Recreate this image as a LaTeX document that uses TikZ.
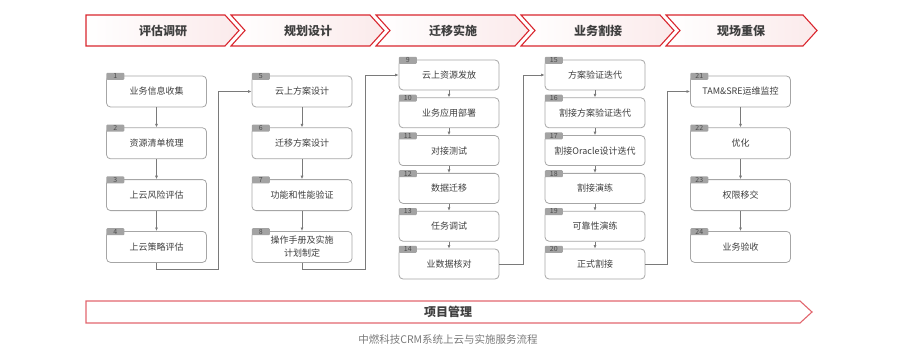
\documentclass[tikz,border=0pt]{standalone}
\usepackage{fontspec}
\setmainfont{Noto Sans CJK SC}
\usepackage{tikz}
\usetikzlibrary{arrows.meta,positioning}
\definecolor{hdred}{HTML}{D9262E}
\definecolor{pmred}{HTML}{E2666E}
\definecolor{hdpink}{HTML}{FBEAEB}
\definecolor{boxgray}{HTML}{A6A6A6}
\definecolor{tabgray}{HTML}{A3A3A3}
\definecolor{tabtxt}{HTML}{4D4D4D}
\definecolor{linegray}{HTML}{7A7A7A}
\definecolor{txtgray}{HTML}{3F3F3F}

\begin{document}
\begin{tikzpicture}[
  x=1pt,y=-1pt,
  phase/.style={draw=hdred,line width=1.1pt,left color=white,right color=hdpink},
  pmbar/.style={draw=pmred,line width=1.1pt,left color=white,middle color=hdpink,right color=white},
  phasetext/.style={font=\fontsize{12}{14}\selectfont\bfseries,text=txtgray},
  box/.style={draw=boxgray,line width=0.8pt,rounded corners=4pt,fill=white,minimum width=100pt,minimum height=31pt,inner sep=1pt,align=center,text=txtgray,font=\fontsize{9}{13}\selectfont},
  sbox/.style={box,minimum height=30pt},
  tab/.style={anchor=north west,yshift=3pt,fill=tabgray,text=tabtxt,rounded corners=1pt,minimum width=18pt,minimum height=7pt,inner sep=0pt,font=\fontsize{7}{7}\selectfont},
  num/.style={label={[tab,name=t#1]north west:#1}},
  arrow/.style={-{Latex[length=3.5pt,width=3pt]},line width=0.7pt,draw=linegray}
]
\useasboundingbox (0,0) rectangle (897,350);

% phase headers
\draw[phase] (86,15) -- (225,15) -- (239,30.5) -- (225,46) -- (86,46) -- cycle;
\node[phasetext] (p1) at (163,30.5) {评估调研};
\draw[phase] (231,15) -- (370,15) -- (384,30.5) -- (370,46) -- (231,46) -- (245,30.5) -- cycle;
\node[phasetext] (p2) at (308,30.5) {规划设计};
\draw[phase] (376,15) -- (515,15) -- (529,30.5) -- (515,46) -- (376,46) -- (390,30.5) -- cycle;
\node[phasetext] (p3) at (453,30.5) {迁移实施};
\draw[phase] (521,15) -- (660,15) -- (674,30.5) -- (660,46) -- (521,46) -- (535,30.5) -- cycle;
\node[phasetext] (p4) at (598,30.5) {业务割接};
\draw[phase] (666,15) -- (803,15) -- (817,30.5) -- (803,46) -- (666,46) -- (680,30.5) -- cycle;
\node[phasetext] (p5) at (741,30.5) {现场重保};

% column 1
\node[box,num=1] (b1) at (156.5,91.5) {业务信息收集};
\node[box,num=2,below=20pt of b1] (b2) {资源清单梳理};
\node[box,num=3,below=20pt of b2] (b3) {上云风险评估};
\node[box,num=4,below=20pt of b3] (b4) {上云策略评估};

% column 2
\node[box,num=5] (b5) at (302,91.5) {云上方案设计};
\node[box,num=6,below=20pt of b5] (b6) {迁移方案设计};
\node[box,num=7,below=20pt of b6] (b7) {功能和性能验证};
\node[box,num=8,below=20pt of b7] (b8) {操作手册及实施\\计划制定};

% column 3
\node[sbox,num=9] (b9) at (449,75) {云上资源发放};
\node[sbox,num=10,below=7pt of b9] (b10) {业务应用部署};
\node[sbox,num=11,below=7pt of b10] (b11) {对接测试};
\node[sbox,num=12,below=7pt of b11] (b12) {数据迁移};
\node[sbox,num=13,below=7pt of b12] (b13) {任务调试};
\node[sbox,num=14,below=7pt of b13] (b14) {业数据核对};

% column 4
\node[sbox,num=15] (b15) at (595,75) {方案验证迭代};
\node[sbox,num=16,below=7pt of b15] (b16) {割接方案验证迭代};
\node[sbox,num=17,below=7pt of b16] (b17) {割接Oracle设计迭代};
\node[sbox,num=18,below=7pt of b17] (b18) {割接演练};
\node[sbox,num=19,below=7pt of b18] (b19) {可靠性演练};
\node[sbox,num=20,below=7pt of b19] (b20) {正式割接};

% column 5
\node[box,num=21] (b21) at (740.5,91.5) {TAM\&SRE运维监控};
\node[box,num=22,below=20pt of b21] (b22) {优化};
\node[box,num=23,below=20pt of b22] (b23) {权限移交};
\node[box,num=24,below=20pt of b23] (b24) {业务验收};

% elbows between columns
\coordinate (j1) at (218,269);
\coordinate (j2) at (365,269);
\coordinate (j3) at (523,75);
\coordinate (j4) at (667,91.5);

\draw[arrow] (b1) -- (b2);
\draw[arrow] (b2) -- (b3);
\draw[arrow] (b3) -- (b4);
\draw[arrow] (b4.south) |- (j1) |- (b5.west);
\draw[arrow] (b5) -- (b6);
\draw[arrow] (b6) -- (b7);
\draw[arrow] (b7) -- (b8);
\draw[arrow] (b8.south) |- (j2) |- (b9.west);
\draw[arrow] (b9) -- (b10);
\draw[arrow] (b10) -- (b11);
\draw[arrow] (b11) -- (b12);
\draw[arrow] (b12) -- (b13);
\draw[arrow] (b13) -- (b14);
\draw[arrow] (b14.east) -| (j3) -- (b15.west);
\draw[arrow] (b15) -- (b16);
\draw[arrow] (b16) -- (b17);
\draw[arrow] (b17) -- (b18);
\draw[arrow] (b18) -- (b19);
\draw[arrow] (b19) -- (b20);
\draw[arrow] (b20.east) -| (j4) -- (b21.west);
\draw[arrow] (b21) -- (b22);
\draw[arrow] (b22) -- (b23);
\draw[arrow] (b23) -- (b24);

% project management bar
\draw[pmbar] (86,301) -- (800,301) -- (812,312) -- (800,323) -- (86,323) -- cycle;
\node[phasetext] (pm) at (448,312) {项目管理};
\node[text=linegray,font=\fontsize{10.5}{12}\selectfont] (cap) at (448,339) {中燃科技CRM系统上云与实施服务流程};
\end{tikzpicture}
\end{document}
